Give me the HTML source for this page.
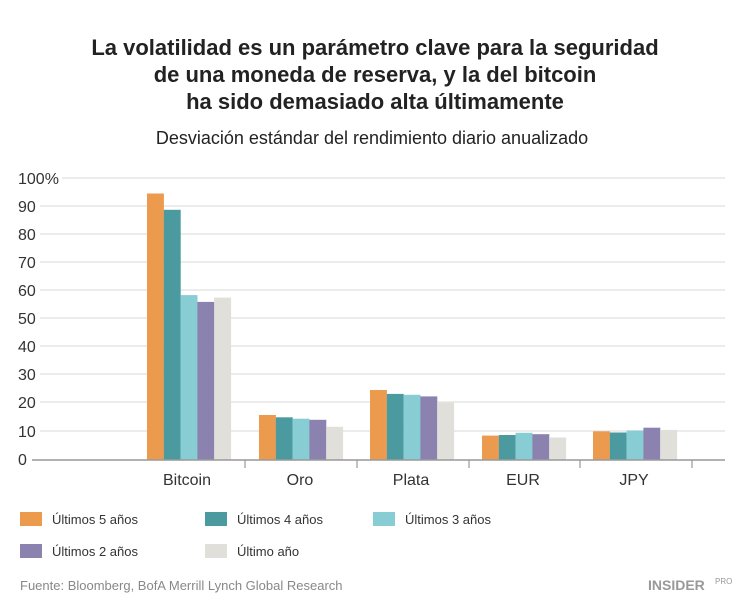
<!DOCTYPE html>
<html><head><meta charset="utf-8"><style>
body{margin:0;background:#fff;width:750px;height:606px;overflow:hidden}
svg text{font-family:"Liberation Sans",sans-serif}
</style></head><body>
<svg width="750" height="606" xmlns="http://www.w3.org/2000/svg">
<g text-anchor="middle" font-weight="bold" font-size="22" fill="#222">
<text x="375" y="55">La volatilidad es un parámetro clave para la seguridad</text>
<text x="375" y="82">de una moneda de reserva, y la del bitcoin</text>
<text x="375" y="109">ha sido demasiado alta últimamente</text>
</g>
<text x="372" y="144" text-anchor="middle" font-size="18" fill="#222">Desviación estándar del rendimiento diario anualizado</text>
<g stroke="#e6e6e6" stroke-width="1.5">
<line x1="62" x2="725" y1="178" y2="178"/>
<line x1="40" x2="725" y1="206" y2="206"/>
<line x1="40" x2="725" y1="234" y2="234"/>
<line x1="40" x2="725" y1="262" y2="262"/>
<line x1="40" x2="725" y1="290" y2="290"/>
<line x1="40" x2="725" y1="318" y2="318"/>
<line x1="40" x2="725" y1="346" y2="346"/>
<line x1="40" x2="725" y1="374" y2="374"/>
<line x1="40" x2="725" y1="402" y2="402"/>
<line x1="40" x2="725" y1="431" y2="431"/>
</g>
<g font-size="16" fill="#333">
<text x="18" y="184">100%</text><text x="18" y="212">90</text><text x="18" y="240">80</text><text x="18" y="268">70</text><text x="18" y="296">60</text><text x="18" y="324">50</text><text x="18" y="352">40</text><text x="18" y="380">30</text><text x="18" y="408">20</text><text x="18" y="437">10</text><text x="18" y="465">0</text>
</g>
<g>
<rect x="147" y="193.5" width="16.9" height="266" fill="#EB9A4E"/>
<rect x="163.8" y="209.8" width="16.9" height="249.7" fill="#4A9A9F"/>
<rect x="180.6" y="295.1" width="16.9" height="164.4" fill="#88CCD4"/>
<rect x="197.4" y="301.9" width="16.9" height="157.6" fill="#8C82AF"/>
<rect x="214.2" y="297.6" width="16.9" height="161.9" fill="#E0DFDA"/>
<rect x="259" y="415" width="16.9" height="44.5" fill="#EB9A4E"/>
<rect x="275.8" y="417.3" width="16.9" height="42.2" fill="#4A9A9F"/>
<rect x="292.6" y="418.7" width="16.9" height="40.8" fill="#88CCD4"/>
<rect x="309.4" y="419.8" width="16.9" height="39.7" fill="#8C82AF"/>
<rect x="326.2" y="426.8" width="16.9" height="32.7" fill="#E0DFDA"/>
<rect x="370" y="390" width="16.9" height="69.5" fill="#EB9A4E"/>
<rect x="386.8" y="393.9" width="16.9" height="65.6" fill="#4A9A9F"/>
<rect x="403.6" y="394.8" width="16.9" height="64.7" fill="#88CCD4"/>
<rect x="420.4" y="396.4" width="16.9" height="63.1" fill="#8C82AF"/>
<rect x="437.2" y="402.4" width="16.9" height="57.1" fill="#E0DFDA"/>
<rect x="482" y="435.6" width="16.9" height="23.9" fill="#EB9A4E"/>
<rect x="498.8" y="435" width="16.9" height="24.5" fill="#4A9A9F"/>
<rect x="515.6" y="432.8" width="16.9" height="26.7" fill="#88CCD4"/>
<rect x="532.4" y="434.2" width="16.9" height="25.3" fill="#8C82AF"/>
<rect x="549.2" y="437.5" width="16.9" height="22" fill="#E0DFDA"/>
<rect x="593" y="431.3" width="16.9" height="28.2" fill="#EB9A4E"/>
<rect x="609.8" y="432.5" width="16.9" height="27" fill="#4A9A9F"/>
<rect x="626.6" y="430.5" width="16.9" height="29" fill="#88CCD4"/>
<rect x="643.4" y="427.7" width="16.9" height="31.8" fill="#8C82AF"/>
<rect x="660.2" y="429.9" width="16.9" height="29.6" fill="#E0DFDA"/>
</g>
<line x1="32" x2="725" y1="460" y2="460" stroke="#999" stroke-width="1.5"/>
<g stroke="#999" stroke-width="1.2">
<line x1="245" x2="245" y1="460" y2="468"/><line x1="357" x2="357" y1="460" y2="468"/><line x1="469" x2="469" y1="460" y2="468"/><line x1="580" x2="580" y1="460" y2="468"/><line x1="692" x2="692" y1="460" y2="468"/>
</g>
<g font-size="16" fill="#333" text-anchor="middle">
<text x="187" y="485">Bitcoin</text><text x="300" y="485">Oro</text><text x="411" y="485">Plata</text><text x="523" y="485">EUR</text><text x="634" y="485">JPY</text>
</g>
<g font-size="13" fill="#333">
<rect x="20" y="512" width="22" height="14" fill="#EB9A4E"/><text x="52" y="524">Últimos 5 años</text>
<rect x="205" y="512" width="22" height="14" fill="#4A9A9F"/><text x="237" y="524">Últimos 4 años</text>
<rect x="373" y="512" width="22" height="14" fill="#88CCD4"/><text x="405" y="524">Últimos 3 años</text>
<rect x="20" y="544" width="22" height="14" fill="#8C82AF"/><text x="52" y="556">Últimos 2 años</text>
<rect x="205" y="544" width="22" height="14" fill="#E0DFDA"/><text x="237" y="556">Último año</text>
</g>
<text x="20" y="590" font-size="13" fill="#888">Fuente: Bloomberg, BofA Merrill Lynch Global Research</text>
<text x="648" y="590" font-size="14" font-weight="bold" fill="#999" font-family="Liberation Serif,serif">INSIDER</text>
<text x="715" y="584" font-size="8" fill="#999">PRO</text>
</svg>
</body></html>
